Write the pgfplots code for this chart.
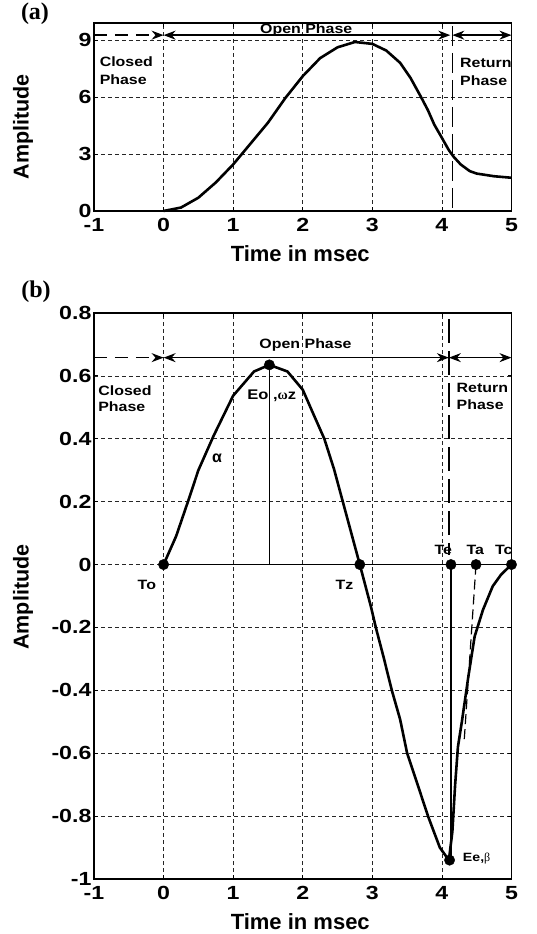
\documentclass[border=0pt]{standalone}
\usepackage{fontspec}
\setmainfont{Liberation Sans}
\newfontfamily\tnr{Liberation Serif}
\newfontfamily\wide[FakeStretch=1.18]{Liberation Sans}
\newfontfamily\widet[FakeStretch=1.22]{Liberation Sans}
\usepackage{pgfplots}
\pgfplotsset{compat=1.18}
\usetikzlibrary{arrows.meta}

\pgfplotsset{
  myaxis/.style={
    scale only axis, width=417.5pt, xmin=-1, xmax=5, xtick={-1,0,1,2,3,4,5},
    grid=major,
    major grid style={black!85, line width=0.6pt, dash pattern=on 4pt off 3pt},
    axis line style={line width=1.3pt},
    tick style={black, line width=0.8pt},
    major tick length=4pt, tick align=inside,
    /pgf/number format/assume math mode=true,
    tick label style={font=\widet\fontsize{19}{19}\selectfont\bfseries},
    xticklabel style={yshift=-5.5pt, inner sep=2pt},
    yticklabel style={xshift=1pt},
    every axis x label/.style={at={(axis description cs:0.494,0)}, anchor=center, yshift=-43pt, font=\fontsize{22}{22}\selectfont\bfseries},
    every axis y label/.style={rotate=90, anchor=center, font=\fontsize{21.5}{21.5}\selectfont\bfseries},
    xlabel={Time in msec}, ylabel={Amplitude},
    clip=false,
  },
}
\tikzset{
  arr/.style={line width=1.4pt, {Stealth[length=12pt,width=9pt]}-{Stealth[length=12pt,width=9pt]}},
  darr/.style={line width=1.4pt, dash pattern=on 13pt off 8pt, -{Stealth[length=12pt,width=9pt]}},
  lab/.style={font=\wide\fontsize{13.5}{18}\selectfont\bfseries, inner sep=0pt},
}

\begin{document}
\begin{tikzpicture}
\useasboundingbox (-94pt,-55pt) rectangle (442pt,879pt);

% ---------------- (a) ----------------
\begin{axis}[myaxis, at={(0pt,668pt)}, anchor=south west, height=188pt,
  ymin=0, ymax=9.9, ytick={0,3,6,9},
  ylabel style={at={(axis description cs:-0.17,0.447)}}]
\addplot[black, line width=2.6pt] coordinates {
(0,0) (0.25,0.18) (0.5,0.7) (0.75,1.5) (1,2.45) (1.25,3.55) (1.5,4.65)
(1.75,5.95) (2,7.1) (2.25,8.05) (2.5,8.62) (2.75,8.9) (3,8.8) (3.2,8.45)
(3.4,7.8) (3.55,7.0) (3.7,6.0) (3.8,5.3) (3.89,4.55) (4.0,3.85) (4.1,3.2)
(4.17,2.85) (4.27,2.45) (4.4,2.1) (4.5,1.97) (4.75,1.83) (5,1.75)};
\draw[darr] (axis cs:-1,9.26) -- (axis cs:0,9.26);
\draw[arr] (axis cs:0,9.26) -- (axis cs:4.12,9.26);
\draw[arr] (axis cs:4.15,9.26) -- (axis cs:5,9.26);
\draw[line width=1.4pt, dash pattern=on 20pt off 7pt] (axis cs:4.15,9.75) -- (axis cs:4.15,0);
\node[lab, anchor=base] at (axis cs:2.05,9.37) {Open Phase};
\node[lab, anchor=west, align=left] at (axis cs:-0.92,7.37) {Closed\\Phase};
\node[lab, anchor=west, align=left] at (axis cs:4.26,7.33) {Return\\Phase};
\end{axis}

% ---------------- (b) ----------------
\begin{axis}[myaxis, at={(0pt,0pt)}, anchor=south west, height=566pt,
  ymin=-1, ymax=0.8, ytick={-1,-0.8,-0.6,-0.4,-0.2,0,0.2,0.4,0.6,0.8},
  ylabel style={at={(axis description cs:-0.17,0.498)}}]
\addplot[black, line width=1.6pt] coordinates {(0,0) (5,0)};
\addplot[black, line width=1.3pt] coordinates {(1.52,0) (1.52,0.635)};
\addplot[black, line width=1.3pt] coordinates {(4.13,0) (4.13,-0.94)};
\addplot[black, line width=1.2pt, dash pattern=on 10pt off 5pt] coordinates {(4.49,0) (4.32,-0.56)};
\addplot[black, line width=2.6pt] coordinates {
(0,0) (0.18,0.09) (0.35,0.2) (0.5,0.3) (0.72,0.41) (1.0,0.537) (1.3,0.614)
(1.52,0.635) (1.78,0.614) (2.0,0.556) (2.15,0.48) (2.31,0.4) (2.45,0.303)
(2.6,0.18) (2.82,0) (2.98,-0.134) (3.05,-0.2) (3.16,-0.293) (3.28,-0.4)
(3.4,-0.493) (3.5,-0.6) (3.66,-0.706) (3.8,-0.8) (3.97,-0.9) (4.1,-0.94)
(4.15,-0.85) (4.19,-0.7) (4.23,-0.58) (4.29,-0.495) (4.38,-0.356)
(4.47,-0.229) (4.59,-0.144) (4.73,-0.069) (4.85,-0.032) (5,0)};
\addplot[only marks, mark=*, mark size=5.2pt, black] coordinates {
(0,0) (1.52,0.635) (2.82,0) (4.13,0) (4.49,0) (5,0) (4.11,-0.94)};
\draw[darr] (axis cs:-1,0.658) -- (axis cs:0,0.658);
\draw[arr] (axis cs:0,0.658) -- (axis cs:4.1,0.658);
\draw[arr] (axis cs:4.1,0.658) -- (axis cs:5,0.658);
\draw[line width=1.4pt, dash pattern=on 24pt off 8pt] (axis cs:4.1,0.78) -- (axis cs:4.1,0.03);
\node[lab, anchor=base] at (axis cs:2.04,0.688) {Open Phase};
\node[lab, anchor=west, align=left, font=\wide\fontsize{13.5}{16.5}\selectfont\bfseries] at (axis cs:-0.94,0.528) {Closed\\Phase};
\node[lab, anchor=west, align=left, font=\wide\fontsize{13.5}{17}\selectfont\bfseries] at (axis cs:4.21,0.536) {Return\\Phase};
\node[lab, font=\wide\fontsize{14}{14}\selectfont\bfseries] at (axis cs:1.555,0.537) {Eo ,{\tnr ω}z};
\node[lab, font=\fontsize{16}{16}\selectfont\bfseries] at (axis cs:0.77,0.337) {α};
\node[lab] at (axis cs:-0.24,-0.065) {To};
\node[lab] at (axis cs:2.6,-0.065) {Tz};
\node[lab] at (axis cs:4.02,0.047) {Te};
\node[lab] at (axis cs:4.48,0.047) {Ta};
\node[lab] at (axis cs:4.89,0.047) {Tc};
\node[lab, anchor=west, font=\wide\fontsize{12}{12}\selectfont\bfseries] at (axis cs:4.3,-0.935) {Ee,{\tnr\mdseries β}};
\end{axis}

\node[font=\tnr\bfseries\fontsize{24}{24}\selectfont] at (-59pt,865pt) {(a)};
\node[font=\tnr\bfseries\fontsize{24}{24}\selectfont] at (-58pt,587pt) {(b)};
\end{tikzpicture}
\end{document}
